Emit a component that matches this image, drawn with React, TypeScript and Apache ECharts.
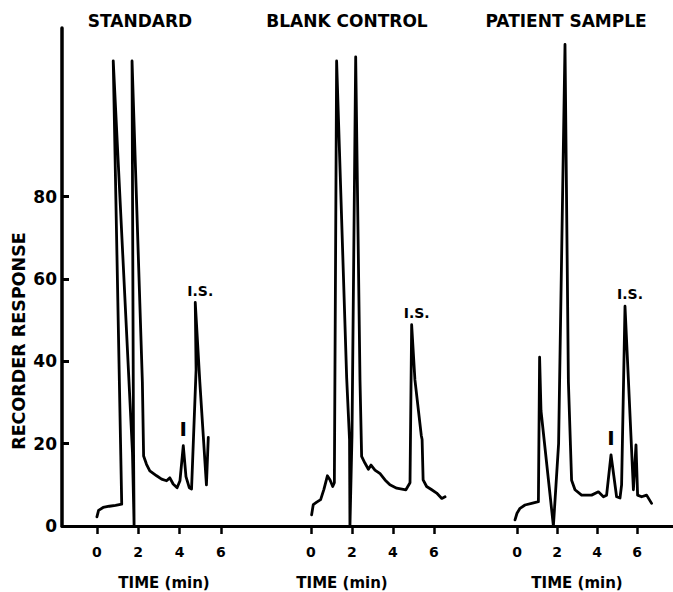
import React, { useEffect, useRef } from 'react';
import * as echarts from 'echarts';

// ---- data ----
const timeTicks = [0, 2, 4, 6];
const responseTicks = [0, 20, 40, 60, 80];
const panelTitles = ['STANDARD', 'BLANK CONTROL', 'PATIENT SAMPLE'];
const xAxisTitle = 'TIME (min)';
const yAxisTitle = 'RECORDER RESPONSE';

// [time (min), recorder response] in pen order (pen swings make points go back in time)
const standardTrace: [number, number][] = [
  [0, 2.2], [0.08, 3.8], [0.3, 4.5], [0.6, 4.8], [0.9, 5.0], [1.2, 5.3],
  [0.79, 113],
  [1.72, 18], [1.8, 0], [1.77, 20],
  [1.7, 113],
  [2.2, 35], [2.26, 17], [2.4, 15], [2.56, 13.4], [2.89, 12.2], [3.13, 11.4], [3.37, 11],
  [3.53, 11.7], [3.69, 10.2], [3.88, 9.3], [4.02, 11], [4.18, 19.5], [4.31, 12], [4.47, 9.3],
  [4.58, 9], [4.8, 38], [4.76, 54.3], [4.98, 35], [5.3, 10], [5.39, 21.5],
];

const blankTrace: [number, number][] = [
  [0.03, 2.7], [0.11, 5.2], [0.28, 5.8], [0.47, 6.4], [0.63, 8.9], [0.8, 12.2], [0.93, 11.2],
  [1.06, 9.6], [1.14, 10.5],
  [1.25, 113],
  [1.74, 36], [1.88, 21], [1.9, 0], [2.0, 22],
  [2.18, 114],
  [2.39, 35.5], [2.47, 16.9], [2.63, 15.3], [2.8, 13.8], [2.93, 14.8], [3.12, 13.6], [3.37, 12.7],
  [3.61, 11.2], [3.85, 10], [4.18, 9.2], [4.63, 8.8], [4.83, 10.5],
  [4.91, 48.9],
  [5.07, 35.5], [5.38, 22], [5.42, 21], [5.47, 11.2], [5.64, 9.6], [5.89, 8.8], [6.13, 8],
  [6.38, 6.7], [6.54, 7.1],
];

const patientTrace: [number, number][] = [
  [-0.1, 1.5], [0, 3.1], [0.15, 4.3], [0.4, 5.1], [0.73, 5.5], [1.07, 5.9],
  [1.13, 41],
  [1.2, 28], [1.82, 0], [1.95, 10], [2.08, 20],
  [2.4, 117],
  [2.57, 35], [2.73, 11.1], [2.9, 8.8], [3.23, 7.5], [3.73, 7.5], [4.07, 8.3], [4.32, 7.1],
  [4.48, 7.5], [4.7, 17.3], [4.98, 7.1], [5.15, 6.8], [5.23, 10],
  [5.4, 53.4],
  [5.57, 35.5], [5.82, 8.8], [5.95, 19.7], [6.03, 7.5], [6.23, 7.1], [6.48, 7.5], [6.73, 5.5],
];

// peak annotations [time, response, text]
const standardNotes: [number, number, string][] = [[4.76, 54.3, 'I.S.'], [4.18, 19.5, 'I']];
const blankNotes: [number, number, string][] = [[4.91, 48.9, 'I.S.']];
const patientNotes: [number, number, string][] = [[5.4, 53.4, 'I.S.'], [4.7, 17.3, 'I']];

const traces = [standardTrace, blankTrace, patientTrace];
const notes = [standardNotes, blankNotes, patientNotes];

// ---- layout ----
const FONT = 'DejaVu Sans';
const GRID_TOP = 28;
const GRID_H = 498;
const Y_MAX = 121;
const panels = [
  { left: 62, width: 200, min: -1.69, max: 7.99, titleX: 140, timeX: 164 },
  { left: 262, width: 205, min: -2.39, max: 7.61, titleX: 347, timeX: 342 },
  { left: 467, width: 206, min: -2.5, max: 7.8, titleX: 566, timeX: 577 },
];

export default function App() {
  const ref = useRef<HTMLDivElement>(null);
  useEffect(() => {
    if (!ref.current) return;
    const chart = echarts.init(ref.current, undefined, { renderer: 'svg' });
    const textStyle = (size: number) => ({
      fill: '#000',
      fontFamily: FONT,
      fontWeight: 'bold',
      fontSize: size,
    });
    const graphic: any[] = [];
    panels.forEach((p, i) => {
      graphic.push({
        type: 'text', x: p.titleX, y: 21,
        style: { ...textStyle(17), text: panelTitles[i], textAlign: 'center', textVerticalAlign: 'middle', align: 'center', verticalAlign: 'middle' },
      });
      graphic.push({
        type: 'text', x: p.timeX, y: 583,
        style: { ...textStyle(15), text: xAxisTitle, textAlign: 'center', textVerticalAlign: 'middle', align: 'center', verticalAlign: 'middle' },
      });
    });
    graphic.push({
      type: 'text', x: 18.5, y: 341, rotation: Math.PI / 2,
      style: { ...textStyle(17.5), text: yAxisTitle, textAlign: 'center', textVerticalAlign: 'middle', align: 'center', verticalAlign: 'middle' },
    });

    const series: any[] = [];
    traces.forEach((tr, i) => {
      series.push({
        type: 'line', xAxisIndex: i, yAxisIndex: i, data: tr, showSymbol: false, symbol: 'none',
        silent: true, clip: false,
        lineStyle: { color: '#000', width: 2.8, join: 'round', cap: 'round' },
      });
      series.push({
        type: 'scatter', xAxisIndex: i, yAxisIndex: i, symbolSize: 0, silent: true,
        itemStyle: { color: '#000', opacity: 1 },
        data: notes[i].map(([t, v, txt]) => ({
          value: [t, v], name: txt,
          label: txt === 'I'
            ? { show: true, color: '#000', opacity: 1, fontSize: 20, distance: 7, offset: [0, 0] }
            : { show: true, color: '#000', opacity: 1, fontSize: 14, distance: 5, offset: [5, 0] },
        })),
        label: {
          show: true, position: 'top', formatter: '{b}', color: '#000', opacity: 1,
          fontFamily: FONT, fontWeight: 'bold',
        },
      });
    });

    chart.setOption({
      animation: false,
      backgroundColor: '#fff',
      grid: panels.map((p) => ({ left: p.left, top: GRID_TOP, width: p.width, height: GRID_H, containLabel: false })),
      xAxis: panels.map((p, i) => ({
        type: 'value', gridIndex: i, min: p.min, max: p.max,
        axisLine: { show: true, onZero: false, lineStyle: { color: '#000', width: 3 } },
        axisTick: { show: true, customValues: timeTicks, length: 8, lineStyle: { color: '#000', width: 2.5 } },
        axisLabel: { customValues: timeTicks, margin: 19, color: '#000', fontFamily: FONT, fontWeight: 'bold', fontSize: 14 },
        splitLine: { show: false },
      })),
      yAxis: panels.map((p, i) => i === 0 ? {
        type: 'value', gridIndex: i, min: 0, max: Y_MAX,
        axisLine: { show: true, onZero: false, lineStyle: { color: '#000', width: 3.5 } },
        axisTick: { show: true, inside: true, customValues: responseTicks, length: 7, lineStyle: { color: '#000', width: 3 } },
        axisLabel: { customValues: responseTicks, margin: 5, color: '#000', fontFamily: FONT, fontWeight: 'bold', fontSize: 17 },
        splitLine: { show: false },
      } : {
        type: 'value', gridIndex: i, min: 0, max: Y_MAX, show: false,
        axisLine: { onZero: false }, splitLine: { show: false },
      }),
      graphic,
      series,
    });
    return () => chart.dispose();
  }, []);
  return <div ref={ref} style={{ position: 'absolute', left: 0, top: 0, width: 673, height: 592 }} />;
}
